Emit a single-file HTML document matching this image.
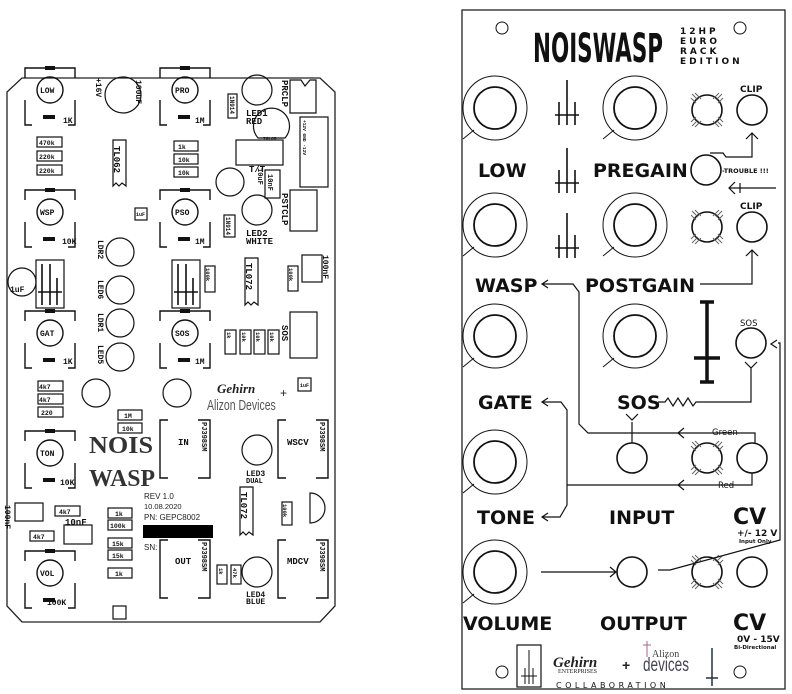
<!DOCTYPE html>
<html><head><meta charset="utf-8"><style>
html,body{margin:0;padding:0;background:#fff;width:792px;height:694px;overflow:hidden}
svg{display:block}
.m{font-family:"Liberation Mono",monospace;font-weight:bold}
.s{font-family:"DejaVu Sans","Liberation Sans",sans-serif;font-weight:bold}
</style></head><body>
<svg width="792" height="694" viewBox="0 0 792 694" xmlns="http://www.w3.org/2000/svg">
<defs>
<g id="pot" fill="none" stroke="#111" stroke-width="1.4">
<path d="M-25,-12 V-22 H25 V-12 M-25,10 V35 H-18 M25,10 V35 H18"/>
<rect x="-5" y="-24" width="10" height="4" fill="#111" stroke="none"/>
<circle r="13"/>
<rect x="-7" y="25" width="12" height="4" fill="#111" stroke="none"/>
</g>
<g id="knob" fill="none" stroke="#111">
<circle r="32" stroke-width="1"/><circle r="21" stroke-width="1.8"/>
<line x1="-21" y1="22" x2="-32" y2="31" stroke-width="1"/>
</g>
<g id="led" fill="none" stroke="#111">
<circle r="15" stroke-width="1.6"/>
<path d="M-15,-16 l6,6 M-12,-17 l6,6 M-16,-12 l5,5 M15,-16 l-6,6 M12,-17 l-6,6 M16,-12 l-5,5 M-15,16 l6,-6 M-12,17 l6,-6 M-16,12 l5,-5 M15,16 l-6,-6 M12,17 l-6,-6 M16,12 l-5,-5" stroke="#666" stroke-width="1"/>
</g>
<g id="jk"><circle r="15" fill="none" stroke="#111" stroke-width="1.6"/></g>
<g id="cross" stroke="#111" stroke-width="1.6" fill="none">
<path d="M0,0 V45 M-8,22 V45 M8,22 V45 M-12,35 H12"/>
</g>
<g id="conn" fill="none" stroke="#111" stroke-width="1.4">
<path d="M8,0 H0 V58 H8 M38,0 H50 V58 H38"/>
</g>
</defs>

<!-- ========== LEFT PCB ========== -->
<path d="M22,78 H320 L335,92 V606 L320,622 H22 L7,606 V92 Z" fill="none" stroke="#222" stroke-width="1.3"/>
<g class="m" font-size="8" fill="#111">
<use href="#pot" x="50" y="90"/><text x="40" y="93">LOW</text><text x="63" y="123">1K</text>
<use href="#pot" x="185" y="90"/><text x="175" y="93">PRO</text><text x="195" y="123">1M</text>
<use href="#pot" x="50" y="212"/><text x="40" y="215">WSP</text><text x="62" y="244">10K</text>
<use href="#pot" x="185" y="212"/><text x="175" y="215">PSO</text><text x="195" y="244">1M</text>
<use href="#pot" x="50" y="333"/><text x="40" y="336">GAT</text><text x="63" y="364">1K</text>
<use href="#pot" x="185" y="333"/><text x="175" y="336">SOS</text><text x="195" y="364">1M</text>
<use href="#pot" x="50" y="453"/><text x="40" y="456">TON</text><text x="60" y="485">10K</text>
<use href="#pot" x="50" y="573"/><text x="40" y="576">VOL</text><text x="47" y="605">100K</text>
</g>
<g fill="none" stroke="#111" stroke-width="1.2">
<rect x="37" y="137" width="25" height="10"/><rect x="37" y="151" width="25" height="10"/><rect x="37" y="165" width="25" height="10"/>
<rect x="174" y="141" width="24" height="10"/><rect x="174" y="154" width="24" height="10"/><rect x="174" y="167" width="24" height="10"/>
<path d="M113,140 H126 V186 L122,183 L119,186 L116,183 L113,186 Z"/>
<circle cx="123" cy="95" r="18"/>
<rect x="228" y="94" width="9" height="24"/>
<circle cx="257" cy="90" r="15"/>
<path d="M290,80 H301 L305,86 L310,80 H316 V113 H290 Z"/>
<path d="M258,138 A18,18 0 1 1 285,138 Z"/>
<rect x="236" y="140" width="47" height="25"/>
<rect x="300" y="117" width="28" height="70"/>
<circle cx="230" cy="182" r="14"/>
<rect x="265" y="170" width="15" height="28"/>
<rect x="290" y="190" width="27" height="41"/>
<rect x="224" y="215" width="11" height="22"/>
<circle cx="257" cy="210" r="15"/>
<rect x="135" y="208" width="12" height="12"/>
<circle cx="120" cy="252" r="14"/><circle cx="120" cy="290" r="14"/><circle cx="120" cy="323" r="14"/><circle cx="120" cy="357" r="14"/>
<rect x="36" y="260" width="28" height="48"/><rect x="172" y="260" width="28" height="48"/>
<circle cx="22" cy="282" r="14"/>
<rect x="205" y="266" width="10" height="26"/>
<path d="M245,258 H258 V305 L254,302 L251,305 L248,302 L245,305 Z"/>
<rect x="288" y="266" width="10" height="25"/>
<rect x="302" y="255" width="20" height="27"/>
<rect x="290" y="312" width="27" height="46"/>
<rect x="225" y="330" width="11" height="24"/><rect x="240" y="330" width="11" height="24"/><rect x="254" y="330" width="11" height="24"/><rect x="268" y="330" width="11" height="24"/>
<rect x="38" y="381" width="25" height="10"/><rect x="38" y="394" width="25" height="10"/><rect x="38" y="407" width="25" height="10"/>
<circle cx="96" cy="393" r="14"/><circle cx="177" cy="393" r="14"/>
<rect x="298" y="378" width="13" height="13"/>
<rect x="118" y="410" width="24" height="10"/><rect x="118" y="423" width="24" height="10"/>
<circle cx="257" cy="450" r="15"/>
<path d="M240,487 H253 V535 L249,532 L246,535 L243,532 L240,535 Z"/>
<rect x="282" y="502" width="10" height="23"/>
<path d="M310,493 A15,15 0 1 1 310,523 Z"/>
<rect x="15" y="503" width="28" height="18"/>
<rect x="55" y="506" width="25" height="10"/>
<rect x="64" y="525" width="28" height="19"/>
<rect x="30" y="531" width="24" height="10"/>
<rect x="108" y="508" width="24" height="10"/><rect x="108" y="520" width="24" height="10"/>
<rect x="108" y="538" width="24" height="10"/><rect x="108" y="550" width="24" height="10"/><rect x="108" y="568" width="24" height="10"/>
<rect x="217" y="565" width="10" height="19"/><rect x="231" y="565" width="10" height="19"/>
<circle cx="257" cy="572" r="15"/>
<rect x="113" y="606" width="13" height="13"/>
</g>
<g stroke="#111" stroke-width="1.6"><path d="M42,264 V305 M50,264 V305 M57,278 V305 M38,292 H62 M178,264 V305 M186,264 V305 M193,278 V305 M174,292 H198"/></g>
<use href="#conn" x="160" y="420"/><use href="#conn" x="160" y="540"/><use href="#conn" x="278" y="420"/><use href="#conn" x="278" y="540"/>
<rect x="143" y="525" width="70" height="13" fill="#000"/>
<g class="m" font-size="6.5" fill="#111">
<text x="39" y="145">470k</text><text x="39" y="159">220k</text><text x="39" y="173">220k</text>
<text x="178" y="149">1k</text><text x="178" y="162">10k</text><text x="178" y="175">10k</text>
<text x="39" y="389">4k7</text><text x="39" y="402">4k7</text><text x="41" y="415">220</text>
<text x="124" y="418">1M</text><text x="122" y="431">10k</text>
<text x="59" y="514">4k7</text><text x="33" y="539">4k7</text>
<text x="115" y="516">1k</text><text x="110" y="528">100k</text><text x="112" y="546">15k</text><text x="112" y="558">15k</text><text x="115" y="576">1k</text>
<text x="136" y="216" font-size="5">1uF</text><text x="300" y="387" font-size="5">1uF</text>
</g>
<g class="m" font-size="9" fill="#111">
<text x="178" y="445">IN</text><text x="175" y="564">OUT</text><text x="287" y="445">WSCV</text><text x="287" y="564">MDCV</text>
<text x="246" y="116">LED1</text><text x="246" y="124">RED</text>
<text x="246" y="236">LED2</text><text x="246" y="244">WHITE</text>
<text x="249" y="172">T/T</text>
<text x="246" y="476" font-size="8">LED3</text><text x="246" y="483" font-size="7">DUAL</text>
<text x="246" y="597" font-size="8">LED4</text><text x="246" y="604" font-size="8">BLUE</text>
<text x="65" y="525">10nF</text><text x="10" y="292" font-size="8">1uF</text>
<text x="263" y="140" font-size="4.5">78L05</text>
</g>
<g class="m" font-size="9" fill="#111">
<text transform="translate(282,80) rotate(90)">PRCLP</text>
<text transform="translate(282,193) rotate(90)">PSTCLP</text>
<text transform="translate(282,325) rotate(90)">SOS</text>
<text transform="translate(114,146) rotate(90)">TL062</text>
<text transform="translate(246,263) rotate(90)">TL072</text>
<text transform="translate(241,492) rotate(90)">TL072</text>
<text transform="translate(136,80) rotate(90)" font-size="8">100uF</text>
<text transform="translate(96,78) rotate(90)" font-size="8">+16V</text>
<text transform="translate(268,174) rotate(90)" font-size="7">10nF</text>
<text transform="translate(258,168) rotate(90)" font-size="7">10uF</text>
<text transform="translate(323,255) rotate(90)" font-size="8">100nF</text>
<text transform="translate(5,505) rotate(90)" font-size="8">100nF</text>
<text transform="translate(98,240) rotate(90)" font-size="8">LDR2</text>
<text transform="translate(98,280) rotate(90)" font-size="8">LED6</text>
<text transform="translate(98,313) rotate(90)" font-size="8">LDR1</text>
<text transform="translate(98,345) rotate(90)" font-size="8">LED5</text>
<text transform="translate(230,96) rotate(90)" font-size="6">1N914</text>
<text transform="translate(226,217) rotate(90)" font-size="6">1N914</text>
<text transform="translate(206,268) rotate(90)" font-size="5.5">100k</text>
<text transform="translate(289,268) rotate(90)" font-size="5.5">100k</text>
<text transform="translate(283,504) rotate(90)" font-size="5.5">100k</text>
<text transform="translate(227,332) rotate(90)" font-size="5.5">1k</text>
<text transform="translate(242,332) rotate(90)" font-size="5.5">10k</text>
<text transform="translate(256,332) rotate(90)" font-size="5.5">10k</text>
<text transform="translate(270,332) rotate(90)" font-size="5.5">10k</text>
<text transform="translate(219,568) rotate(90)" font-size="5.5">1k</text>
<text transform="translate(233,568) rotate(90)" font-size="5.5">47k</text>
<text transform="translate(202,422) rotate(90)" font-size="7">PJ398SM</text>
<text transform="translate(202,542) rotate(90)" font-size="7">PJ398SM</text>
<text transform="translate(320,422) rotate(90)" font-size="7">PJ398SM</text>
<text transform="translate(320,542) rotate(90)" font-size="7">PJ398SM</text>
<text transform="translate(303,120) rotate(90)" font-size="4.5">+12V  GND  -12V</text>
</g>
<g font-family="Liberation Sans,sans-serif" fill="#222">
<text x="144" y="499" font-size="8">REV 1.0</text><text x="144" y="509" font-size="7.5">10.08.2020</text><text x="144" y="520" font-size="8">PN: GEPC8002</text><text x="144" y="550" font-size="8">SN:</text>
<text x="217" y="393" font-family="Liberation Serif,serif" font-style="italic" font-weight="bold" font-size="13">Gehirn</text>
<text x="280" y="397" font-size="12">+</text>
<text x="207" y="410" font-size="15" fill="#555" transform="translate(207,0) scale(0.7,1) translate(-207,0)">Alizon Devices</text>
<text x="89" y="453" font-family="Liberation Serif,serif" font-weight="bold" font-size="24" fill="#333" textLength="64" lengthAdjust="spacingAndGlyphs">NOIS</text>
<text x="89" y="486" font-family="Liberation Serif,serif" font-weight="bold" font-size="24" fill="#333" textLength="66" lengthAdjust="spacingAndGlyphs">WASP</text>
</g>

<!-- ========== RIGHT PANEL ========== -->
<rect x="462" y="10" width="323" height="679" fill="none" stroke="#222" stroke-width="1.3"/>
<circle cx="502" cy="28" r="6" fill="none" stroke="#111"/><circle cx="740" cy="28" r="6" fill="none" stroke="#111"/>
<circle cx="502" cy="672" r="6" fill="none" stroke="#111"/><circle cx="740" cy="672" r="6" fill="none" stroke="#111"/>
<text x="533" y="62" font-family="DejaVu Sans Condensed,DejaVu Sans,sans-serif" font-weight="bold" font-size="40" fill="#111" textLength="130" lengthAdjust="spacingAndGlyphs">NOISWASP</text>
<g class="s" font-size="9" fill="#111" letter-spacing="3">
<text x="680" y="34">12HP</text><text x="680" y="44">EURO</text><text x="680" y="54">RACK</text><text x="680" y="64">EDITION</text>
</g>
<use href="#knob" x="495" y="108"/><use href="#knob" x="635" y="108"/>
<use href="#knob" x="495" y="225"/><use href="#knob" x="635" y="225"/>
<use href="#knob" x="495" y="336"/><use href="#knob" x="635" y="336"/>
<use href="#knob" x="495" y="462"/><use href="#knob" x="495" y="572"/>
<use href="#cross" x="567" y="80"/><use href="#cross" x="567" y="148"/><use href="#cross" x="567" y="213"/>
<use href="#led" x="707" y="110"/><use href="#jk" x="752" y="110"/>
<use href="#led" x="707" y="227"/><use href="#jk" x="752" y="227"/>
<use href="#jk" x="706" y="170"/>
<use href="#jk" x="751" y="343"/>
<use href="#jk" x="632" y="458"/><use href="#led" x="707" y="458"/><use href="#jk" x="752" y="458"/>
<use href="#jk" x="632" y="572"/><use href="#led" x="707" y="572"/><use href="#jk" x="752" y="572"/>
<path d="M707,302 V382 M700,302 H714 M694,358 H720 M700,382 H714" stroke="#111" stroke-width="3.5" fill="none"/>
<g class="s" fill="#111">
<text x="740" y="92" font-size="9">CLIP</text><text x="740" y="209" font-size="9">CLIP</text><text x="740" y="326" font-size="8.5" font-weight="normal">SOS</text>
<text x="722" y="173" font-size="6.5">-TROUBLE !!!</text>
<text x="478" y="177" font-size="19">LOW</text><text x="593" y="177" font-size="19">PREGAIN</text>
<text x="475" y="292" font-size="19">WASP</text><text x="585" y="292" font-size="19">POSTGAIN</text>
<text x="478" y="409" font-size="19">GATE</text><text x="617" y="409" font-size="19">SOS</text>
<text x="477" y="524" font-size="19">TONE</text><text x="609" y="524" font-size="19">INPUT</text><text x="733" y="524" font-size="22">CV</text>
<text x="737" y="536" font-size="9">+/- 12 V</text><text x="739" y="543" font-size="5.5">Input Only</text>
<text x="463" y="630" font-size="19">VOLUME</text><text x="600" y="630" font-size="19">OUTPUT</text><text x="733" y="630" font-size="22">CV</text>
<text x="737" y="642" font-size="9">0V - 15V</text><text x="734" y="649" font-size="5.5">Bi-Directional</text>
<text x="712" y="435" font-size="8.5" font-weight="normal">Green</text><text x="718" y="488" font-size="8.5" font-weight="normal">Red</text>
<text x="556" y="688" font-size="8" letter-spacing="3.5" font-weight="normal">COLLABORATION</text>
</g>
<g fill="none" stroke="#111" stroke-width="1.2">
<path d="M746,139 l6,-6 l6,6 M752,134 V157 H726 L723,153 H710"/>
<path d="M746,256 l6,-6 l6,6 M752,251 V284 H700"/>
<path d="M776,188 H729 M735,182 l-6,6 l6,6 M740,183 V193"/>
<path d="M548,280 l-6,4 l6,4 M543,284 H573 L579,292 V424 L588,433 H755 V443"/>
<path d="M684,428 l-6,5 l6,5"/>
<path d="M567,485 H752 V473 M684,480 l-6,5 l6,5"/>
<path d="M548,398 l-6,4 l6,4 M543,402 H561 L567,410 V505 L560,517 H543 M548,513 l-6,4 l6,4"/>
<path d="M658,402 H665 l3,-4 l5,8 l5,-8 l5,8 l5,-8 l5,8 l3,-4 H751 V368 M745,362 l6,6 l6,-6"/>
<path d="M632,443 V422 M626,414 l6,6 l6,-6"/>
<path d="M778,343 H780 V540 L670,570 H658 M777,340 l-6,4 l6,4"/>
<path d="M541,572 H616 M610,567 l6,5 l-6,5"/>
<rect x="517" y="645" width="24" height="42"/>
<path d="M529,650 V684 M525,668 V684 M533,668 V684 M521,676 H537" stroke-width="1"/>
<path d="M712,648 V686 M706,678 H718" stroke="#234" stroke-width="1.5"/>
</g>
<text x="553" y="667" font-family="Liberation Serif,serif" font-style="italic" font-weight="bold" font-size="15" fill="#222">Gehirn</text>
<text x="558" y="673" font-family="Liberation Serif,serif" font-size="6" fill="#222">ENTERPRISES</text>
<text x="622" y="670" font-family="Liberation Sans,sans-serif" font-weight="bold" font-size="14" fill="#222">+</text>
<text x="652" y="657" font-family="Liberation Serif,serif" font-size="10" fill="#444">Alizon</text>
<text x="643" y="671" font-family="Liberation Sans,sans-serif" font-size="19" fill="#445" textLength="46" lengthAdjust="spacingAndGlyphs">devices</text>
<path d="M647,641 V657 M643,645 H651" stroke="#a68" stroke-width="1"/>
</svg>
</body></html>
